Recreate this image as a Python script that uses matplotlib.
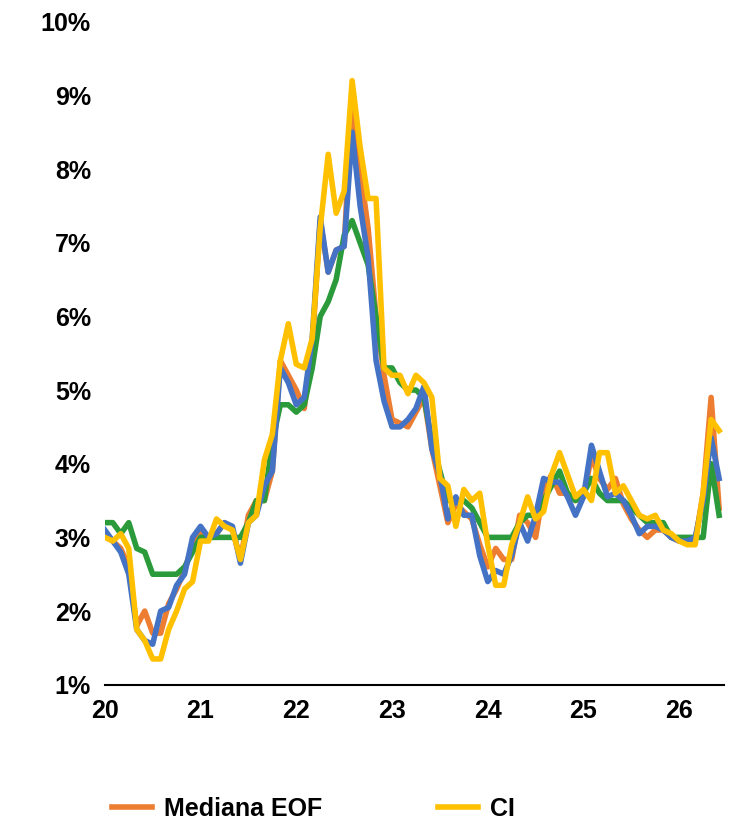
import numpy as np
import matplotlib.pyplot as plt
from matplotlib.ticker import FuncFormatter

# monthly observations starting Jan 2020
eof = [3.05, 2.95, 2.85, 2.6, 1.8, 2.0, 1.7, 1.7, 2.1, 2.3, 2.55, 2.9,
       3.05, 3.0, 3.05, 3.2, 3.1, 2.7, 3.3, 3.5, 3.5, 3.9, 5.4, 5.2,
       5.0, 4.75, 5.6, 7.3, 6.6, 6.9, 6.95, 9.0, 8.0, 7.2, 6.0, 5.2,
       4.6, 4.55, 4.5, 4.7, 4.9, 4.2, 3.7, 3.2, 3.45, 3.35, 3.25, 2.9,
       2.6, 2.85, 2.7, 2.7, 3.3, 3.2, 3.0, 3.65, 3.85, 3.6, 3.6, 3.5,
       3.55, 4.1, 3.8, 3.65, 3.8, 3.45, 3.25, 3.1, 3.0, 3.1, 3.1, 3.0,
       2.95, 2.95, 2.95, 3.6, 4.9, 3.4]
ci = [3.0, 2.95, 3.05, 2.85, 1.75, 1.6, 1.35, 1.35, 1.75, 2.0, 2.3, 2.4,
      2.95, 2.95, 3.25, 3.15, 3.1, 2.7, 3.2, 3.3, 4.05, 4.4, 5.4, 5.9,
      5.35, 5.3, 5.7, 7.2, 8.2, 7.4, 7.7, 9.2, 8.3, 7.6, 7.6, 5.3,
      5.2, 5.2, 4.95, 5.2, 5.1, 4.9, 3.8, 3.7, 3.15, 3.65, 3.5, 3.6,
      2.9, 2.35, 2.35, 2.9, 3.2, 3.55, 3.25, 3.35, 3.85, 4.15, 3.85, 3.55,
      3.65, 3.5, 4.15, 4.15, 3.6, 3.7, 3.5, 3.3, 3.25, 3.3, 3.1, 3.05,
      2.95, 2.9, 2.9, 3.6, 4.6, 4.45]
blue = [3.1, 2.95, 2.8, 2.5, 1.75, 1.6, 1.55, 2.0, 2.05, 2.35, 2.5, 3.0,
        3.15, 3.0, 3.05, 3.2, 3.15, 2.65, 3.2, 3.3, 3.7, 3.9, 5.3, 5.1,
        4.8, 4.9, 5.7, 7.35, 6.6, 6.9, 6.95, 8.5, 7.5, 6.8, 5.4, 4.85,
        4.5, 4.5, 4.6, 4.75, 5.05, 4.2, 3.85, 3.25, 3.55, 3.3, 3.3, 2.75,
        2.4, 2.55, 2.5, 2.75, 3.2, 2.95, 3.3, 3.8, 3.75, 3.75, 3.55, 3.3,
        3.55, 4.25, 3.9, 3.55, 3.6, 3.5, 3.3, 3.05, 3.15, 3.15, 3.1, 3.0,
        2.95, 2.95, 3.0, 3.5, 4.35, 3.8]
green = [3.2, 3.2, 3.05, 3.2, 2.85, 2.8, 2.5, 2.5, 2.5, 2.5, 2.6, 2.8,
         3.0, 3.0, 3.0, 3.0, 3.0, 3.0, 3.2, 3.5, 3.5, 4.3, 4.8, 4.8,
         4.7, 4.8, 5.3, 6.0, 6.2, 6.5, 7.1, 7.3, 7.0, 6.7, 6.0, 5.3,
         5.3, 5.1, 5.0, 5.0, 4.9, 4.3, 3.9, 3.5, 3.5, 3.5, 3.4, 3.2,
         3.0, 3.0, 3.0, 3.0, 3.2, 3.3, 3.3, 3.5, 3.7, 3.9, 3.6, 3.5,
         3.6, 3.8, 3.6, 3.5, 3.5, 3.5, 3.4, 3.3, 3.2, 3.2, 3.2, 3.0,
         3.0, 3.0, 3.0, 3.0, 4.0, 3.3]

x = 20 + np.arange(len(eof)) / 12

fig = plt.figure(figsize=(7.33, 8.33), dpi=100)
ax = fig.add_axes([0.143, 0.178, 0.845, 0.796])

lw = 4
ax.plot(x, eof, color="#ED7D31", lw=lw, label="Mediana EOF")
ax.plot(x, green, color="#2A9A3A", lw=lw, label="_g")
ax.plot(x, blue, color="#4472C4", lw=lw, label="_b")
ax.plot(x, ci, color="#FFC000", lw=lw, label="CI")

ax.set_xlim(20, 26.47)
ax.set_ylim(1, 10)
ax.set_xticks(range(20, 27))
ax.set_yticks(range(1, 11))
ax.yaxis.set_major_formatter(FuncFormatter(lambda v, p: f"{v:.0f}%"))
for s in ["top", "right", "left"]:
    ax.spines[s].set_visible(False)
ax.spines["bottom"].set_linewidth(1.5)
ax.tick_params(axis="both", length=0, labelsize=18, pad=10)
for t in ax.get_xticklabels() + ax.get_yticklabels():
    t.set_fontweight("bold")
    t.set_family("Liberation Sans")

leg = ax.legend(loc="upper left", bbox_to_anchor=(-0.025, -0.135), ncol=2,
                frameon=False, handlelength=1.6, handletextpad=0.5,
                columnspacing=4.6,
                prop={"family": "Liberation Sans", "weight": "bold", "size": 18})

fig.savefig("out.png", dpi=100)
